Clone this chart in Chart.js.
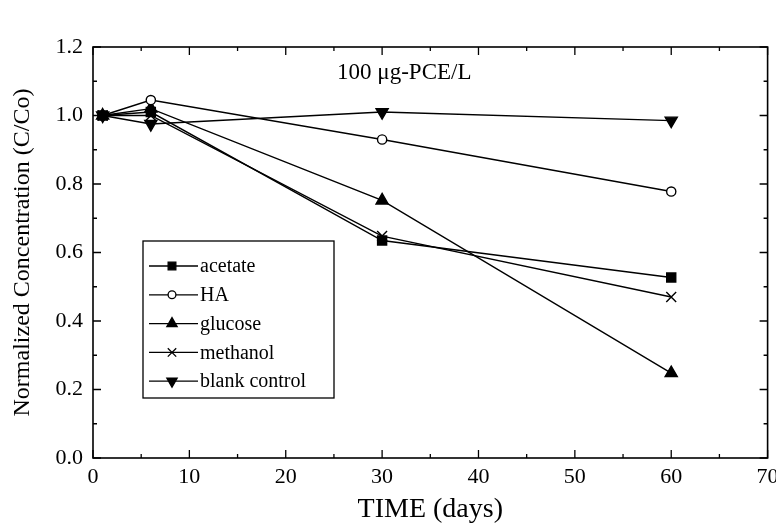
<!DOCTYPE html>
<html><head><meta charset="utf-8">
<script src="https://cdn.jsdelivr.net/npm/chart.js@4/dist/chart.umd.min.js"></script>
<style>html,body{margin:0;padding:0;background:#fff}#wrap{width:776px;height:526px}</style>
</head><body><div id="wrap"><canvas id="c" width="776" height="526"></canvas></div>
<script>
// ---- data ----
const days = [1, 6, 30, 60];
const acetate = [1.0, 1.01, 0.635, 0.527];
const ha = [1.0, 1.045, 0.93, 0.778];
const glucose = [1.0, 1.02, 0.752, 0.248];
const methanol = [1.0, 1.0, 0.648, 0.47];
const blankControl = [1.0, 0.975, 1.01, 0.985];
const seriesNames = ['acetate', 'HA', 'glucose', 'methanol', 'blank control'];
const xTickValues = [0, 10, 20, 30, 40, 50, 60, 70];
const yTickValues = [0.0, 0.2, 0.4, 0.6, 0.8, 1.0, 1.2];
const xTitle = 'TIME (days)';
const yTitle = 'Normalized Concentration (C/Co)';
const annotationText = '100 \u03BCg-PCE/L';

// ---- styles ----
const FONT = '"Liberation Serif", "Times New Roman", serif';
const markers = [
  {pointStyle: 'rect', radius: 6.4, rotation: 0, bg: '#000'},
  {pointStyle: 'circle', radius: 4.6, rotation: 0, bg: '#fff'},
  {pointStyle: 'triangle', radius: 7, rotation: 0, bg: '#000'},
  {pointStyle: 'crossRot', radius: 7, rotation: 0, bg: '#000'},
  {pointStyle: 'triangle', radius: 7, rotation: 180, bg: '#000'}
];
const seriesValues = [acetate, ha, glucose, methanol, blankControl];

const datasets = seriesValues.map((vals, i) => ({
  label: seriesNames[i],
  data: days.map((d, j) => ({x: d, y: vals[j]})),
  borderColor: '#000',
  borderWidth: 1.4,
  backgroundColor: markers[i].bg,
  pointStyle: markers[i].pointStyle,
  pointRadius: markers[i].radius,
  pointRotation: markers[i].rotation,
  pointBorderColor: '#000',
  pointBackgroundColor: markers[i].bg,
  pointBorderWidth: 1.4,
  fill: false,
  tension: 0
}));

const frameTicks = {
  id: 'frameTicks',
  afterDraw(chart) {
    const {ctx, chartArea: a, scales: {x, y}} = chart;
    ctx.save();
    ctx.strokeStyle = '#000';
    ctx.lineWidth = 1.6;
    ctx.strokeRect(a.left, a.top, a.right - a.left, a.bottom - a.top);
    ctx.lineWidth = 1.3;
    ctx.beginPath();
    for (let v = 0; v <= 70; v += 5) {
      const px = x.getPixelForValue(v);
      const len = (v % 10 === 0) ? 8 : 4;
      ctx.moveTo(px, a.bottom); ctx.lineTo(px, a.bottom - len);
      ctx.moveTo(px, a.top); ctx.lineTo(px, a.top + len);
    }
    for (let k = 0; k <= 12; k++) {
      const py = y.getPixelForValue(k / 10);
      const len = (k % 2 === 0) ? 8 : 4;
      ctx.moveTo(a.left, py); ctx.lineTo(a.left + len, py);
      ctx.moveTo(a.right, py); ctx.lineTo(a.right - len, py);
    }
    ctx.stroke();
    // annotation
    ctx.fillStyle = '#000';
    ctx.font = '23px ' + FONT;
    ctx.textAlign = 'center';
    ctx.textBaseline = 'middle';
    ctx.fillText(annotationText, x.getPixelForValue(32.3), y.getPixelForValue(1.125));
    // legend
    const bx = 143, by = 241, bw = 191, bh = 157;
    ctx.lineWidth = 1.3;
    ctx.strokeRect(bx, by, bw, bh);
    ctx.font = '20px ' + FONT;
    ctx.textAlign = 'left';
    chart.data.datasets.forEach((ds, i) => {
      const cy = by + 25 + i * 28.8;
      ctx.beginPath();
      ctx.lineWidth = 1.3;
      ctx.moveTo(bx + 6, cy); ctx.lineTo(bx + 55, cy);
      ctx.stroke();
      ctx.fillStyle = ds.pointBackgroundColor;
      ctx.strokeStyle = '#000';
      Chart.helpers.drawPoint(ctx, {
        pointStyle: ds.pointStyle, radius: ds.pointRadius * 0.85,
        rotation: ds.pointRotation, borderWidth: 1.3
      }, bx + 29, cy);
      ctx.fillStyle = '#000';
      ctx.fillText(ds.label, bx + 57, cy + 1);
    });
    ctx.restore();
  }
};

new Chart(document.getElementById('c'), {
  type: 'line',
  data: {datasets},
  options: {
    responsive: false,
    devicePixelRatio: 1,
    animation: false,
    layout: {padding: {top: 47, right: 6, left: 0, bottom: 0}},
    plugins: {legend: {display: false}, tooltip: {enabled: false}},
    scales: {
      x: {
        type: 'linear', min: 0, max: 70,
        afterBuildTicks: s => { s.ticks = xTickValues.map(v => ({value: v})); },
        afterFit: s => { s.height = 68; s.paddingLeft = 0; s.paddingRight = 0; },
        grid: {display: false, drawTicks: false},
        border: {display: false},
        ticks: {color: '#000', padding: 6, font: {family: FONT, size: 22}, maxRotation: 0},
        title: {display: true, text: xTitle, color: '#000', font: {family: FONT, size: 28}, padding: {top: 4, bottom: 0}}
      },
      y: {
        type: 'linear', min: 0, max: 1.2,
        afterBuildTicks: s => { s.ticks = yTickValues.map(v => ({value: v})); },
        afterFit: s => { s.width = 93; s.paddingTop = 0; s.paddingBottom = 0; },
        grid: {display: false, drawTicks: false},
        border: {display: false},
        ticks: {color: '#000', padding: 10, font: {family: FONT, size: 22}, callback: v => Number(v).toFixed(1)},
        title: {display: true, text: yTitle, color: '#000', font: {family: FONT, size: 24}, padding: {top: 8, bottom: 0}}
      }
    }
  },
  plugins: [frameTicks]
});
</script>
</body></html>
